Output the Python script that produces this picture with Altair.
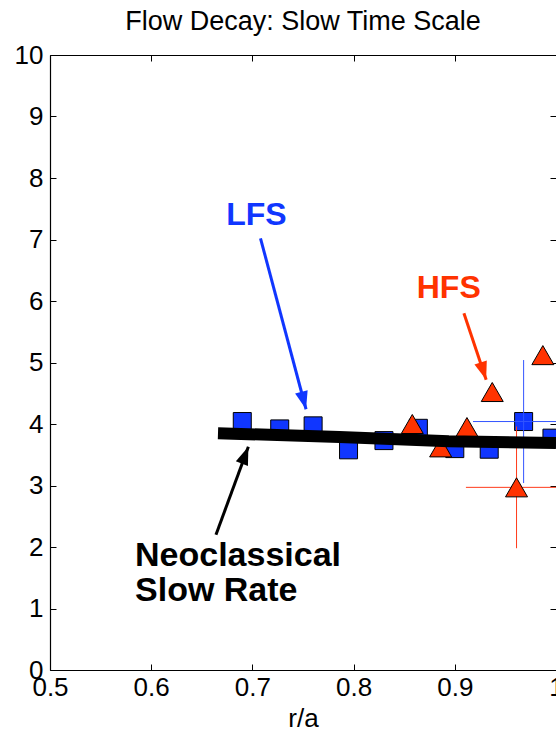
import altair as alt
import pandas as pd

# Low-field-side (LFS) decay rates vs r/a
lfs_r = [0.690, 0.727, 0.760, 0.795, 0.830, 0.864, 0.900, 0.934, 0.968, 0.996]
lfs_rate = [4.04, 3.92, 3.97, 3.58, 3.73, 3.93, 3.60, 3.59, 4.04, 3.77]

# High-field-side (HFS) decay rates vs r/a
hfs_r = [0.858, 0.886, 0.912, 0.937, 0.961, 0.987]
hfs_rate = [4.00, 3.62, 3.95, 4.52, 2.97, 5.12]

# Neoclassical slow rate
neo_r = [0.666, 0.786, 0.894, 1.0]
neo_rate = [3.85, 3.79, 3.72, 3.69]

# Representative error bars (one per side)
err_side = ["LFS", "HFS"]
err_r = [0.968, 0.961]
err_rate = [4.04, 2.97]
err_dr = [0.050, 0.050]
err_drate = [1.00, 0.99]

# Annotation arrows: start point -> tip
arrow_name = ["LFS", "HFS", "Neoclassical"]
arrow_r0 = [0.708, 0.909, 0.664]
arrow_v0 = [7.02, 5.80, 2.20]
arrow_r1 = [0.753, 0.931, 0.696]
arrow_v1 = [4.24, 4.72, 3.63]
arrow_angle = [165, 162, 21]

# Annotation labels
label_text = ["LFS", "HFS", "Neoclassical", "Slow Rate"]
label_r = [0.704, 0.894, 0.584, 0.584]
label_v = [7.24, 6.05, 1.69, 1.12]
label_size = [32, 32, 34, 34]
label_align = ["center", "center", "left", "left"]

x_ticks = [0.5, 0.6, 0.7, 0.8, 0.9, 1.0]
y_ticks = [0, 1, 2, 3, 4, 5, 6, 7, 8, 9, 10]

BLUE = "#1036ff"
RED = "#ff3300"
FONT = "Liberation Sans"
W, H = 506, 615

lfs = pd.DataFrame({"r": lfs_r, "rate": lfs_rate})
hfs = pd.DataFrame({"r": hfs_r, "rate": hfs_rate})
neo = pd.DataFrame({"r": neo_r, "rate": neo_rate})
err = pd.DataFrame({
    "side": err_side, "r": err_r, "rate": err_rate,
    "r_lo": [a - b for a, b in zip(err_r, err_dr)],
    "r_hi": [a + b for a, b in zip(err_r, err_dr)],
    "v_lo": [a - b for a, b in zip(err_rate, err_drate)],
    "v_hi": [a + b for a, b in zip(err_rate, err_drate)],
})
arrows = pd.DataFrame({"name": arrow_name, "r0": arrow_r0, "v0": arrow_v0,
                       "r1": arrow_r1, "v1": arrow_v1, "angle": arrow_angle})
labels = pd.DataFrame({"text": label_text, "r": label_r, "v": label_v,
                       "size": label_size, "align": label_align})

xs = alt.Scale(domain=[0.5, 1.0], nice=False, zero=False)
ys = alt.Scale(domain=[0, 10], nice=False, zero=False)
side_color = alt.Scale(domain=["LFS", "HFS", "Neoclassical", "Slow Rate"],
                       range=[BLUE, RED, "black", "black"])
err_color = alt.Scale(domain=["LFS", "HFS"], range=["#3355ff", "#ff3a1a"])

# Axes: labelled bottom/left axes plus inward-pointing tick rows on all four sides
x_main = alt.Axis(orient="bottom", values=x_ticks, tickSize=0, grid=False,
                  labelExpr="datum.value == 1 ? '1' : format(datum.value, '.1f')",
                  labelFont=FONT, labelFontSize=26, labelColor="black",
                  labelPadding=4, labelFlush=False, labelOverlap=False,
                  domainColor="black", domainWidth=1.2,
                  title="r/a", titleFont=FONT, titleFontSize=26,
                  titleFontWeight="normal", titleColor="black", titlePadding=5)
y_main = alt.Axis(orient="left", values=y_ticks, tickSize=0, grid=False,
                  labelFont=FONT, labelFontSize=26, labelColor="black",
                  labelPadding=7, labelFlush=False, labelOverlap=False,
                  domainColor="black", domainWidth=1.2, title=None)
x_ticks_bottom = alt.Axis(orient="top", offset=-H, values=x_ticks, tickSize=6,
                          tickColor="black", labels=False, domain=False,
                          grid=False, title=None)
x_ticks_top = alt.Axis(orient="bottom", offset=-H, values=x_ticks, tickSize=6,
                       tickColor="black", labels=False, domain=True,
                       domainColor="black", domainWidth=1.2, grid=False, title=None)
y_ticks_left = alt.Axis(orient="right", offset=-W, values=y_ticks, tickSize=6,
                        tickColor="black", labels=False, domain=False,
                        grid=False, title=None)
y_ticks_right = alt.Axis(orient="left", offset=-W, values=y_ticks, tickSize=6,
                         tickColor="black", labels=False, domain=False,
                         grid=False, title=None)

squares = alt.Chart(lfs).mark_point(
    shape="square", size=324, filled=True, fill=BLUE, stroke="black",
    strokeWidth=1, opacity=1, clip=True
).encode(
    x=alt.X("r:Q", scale=xs, axis=x_main),
    y=alt.Y("rate:Q", scale=ys, axis=y_main),
)

err_h = alt.Chart(err).mark_rule(strokeWidth=1, clip=True).encode(
    x=alt.X("r_lo:Q", scale=xs, axis=None), x2="r_hi:Q",
    y=alt.Y("rate:Q", scale=ys, axis=None),
    color=alt.Color("side:N", scale=err_color, legend=None),
)
err_v = alt.Chart(err).mark_rule(strokeWidth=1, clip=True).encode(
    x=alt.X("r:Q", scale=xs, axis=None),
    y=alt.Y("v_lo:Q", scale=ys, axis=None), y2="v_hi:Q",
    color=alt.Color("side:N", scale=err_color, legend=None),
)

triangles = alt.Chart(hfs).mark_point(
    shape="triangle-up", size=484, filled=True, fill=RED, stroke="black",
    strokeWidth=1, opacity=1, clip=True
).encode(
    x=alt.X("r:Q", scale=xs, axis=x_ticks_bottom),
    y=alt.Y("rate:Q", scale=ys, axis=y_ticks_left),
)

neo_line = alt.Chart(neo).mark_line(
    color="black", strokeWidth=12, strokeCap="butt", clip=True
).encode(
    x=alt.X("r:Q", scale=xs, axis=x_ticks_top),
    y=alt.Y("rate:Q", scale=ys, axis=y_ticks_right),
)

shafts = alt.Chart(arrows).mark_rule(strokeWidth=3).encode(
    x=alt.X("r0:Q", scale=xs, axis=None), x2="r1:Q",
    y=alt.Y("v0:Q", scale=ys, axis=None), y2="v1:Q",
    color=alt.Color("name:N", scale=side_color, legend=None),
)
heads = alt.Chart(arrows).mark_point(
    shape="M0,0L0.36,1L-0.36,1Z", size=1296, filled=True, opacity=1
).encode(
    x=alt.X("r1:Q", scale=xs, axis=None),
    y=alt.Y("v1:Q", scale=ys, axis=None),
    angle=alt.Angle("angle:Q", scale=None),
    color=alt.Color("name:N", scale=side_color, legend=None),
)

centered = labels[labels["align"] == "center"]
lefts = labels[labels["align"] == "left"]
text_c = alt.Chart(centered).mark_text(
    font=FONT, fontWeight="bold", align="center", baseline="alphabetic"
).encode(
    x=alt.X("r:Q", scale=xs, axis=None),
    y=alt.Y("v:Q", scale=ys, axis=None),
    text="text:N",
    size=alt.Size("size:Q", scale=None, legend=None),
    color=alt.Color("text:N", scale=side_color, legend=None),
)
text_l = alt.Chart(lefts).mark_text(
    font=FONT, fontWeight="bold", align="left", baseline="alphabetic"
).encode(
    x=alt.X("r:Q", scale=xs, axis=None),
    y=alt.Y("v:Q", scale=ys, axis=None),
    text="text:N",
    size=alt.Size("size:Q", scale=None, legend=None),
    color=alt.Color("text:N", scale=side_color, legend=None),
)

chart = alt.layer(
    squares, err_h, err_v, triangles, neo_line, shafts, heads, text_c, text_l
).resolve_axis(
    x="independent", y="independent"
).resolve_scale(
    color="independent"
).properties(
    width=W, height=H,
    padding={"left": 50, "top": 55, "right": 0, "bottom": 68},
    autosize="none",
    title=alt.TitleParams("Flow Decay: Slow Time Scale", font=FONT,
                          fontSize=27, fontWeight="normal", color="black",
                          anchor="middle", frame="group", offset=6),
    background="white",
).configure_view(stroke=None)

chart.save("out.html", embed_options={"renderer": "svg", "actions": False})
